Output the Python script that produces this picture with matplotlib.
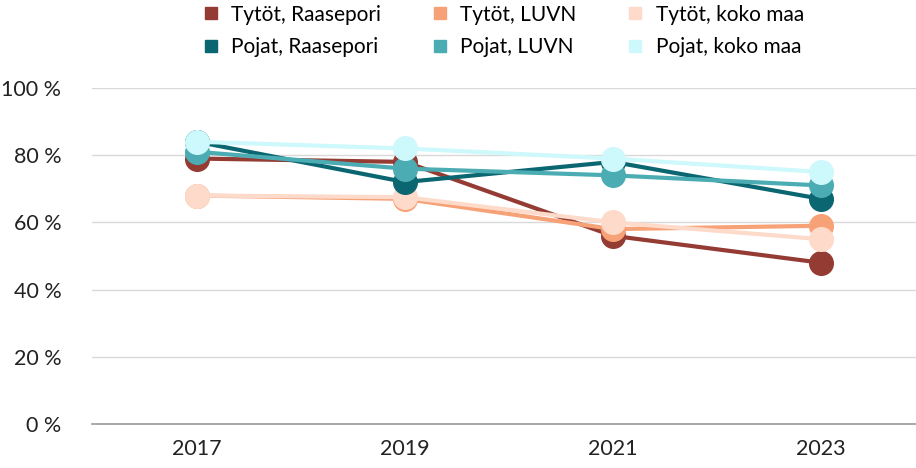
import matplotlib
matplotlib.use("Agg")
import matplotlib.pyplot as plt
from matplotlib.lines import Line2D

plt.rcParams['font.family'] = ['Lato', 'DejaVu Sans']

years = ["2017", "2019", "2021", "2023"]

tytot_raasepori = [79, 78, 56, 48]
tytot_luvn = [68, 67, 58, 59]
tytot_koko_maa = [68, 67.5, 60, 55]
pojat_raasepori = [84, 72, 78, 67]
pojat_luvn = [81, 76, 74, 71]
pojat_koko_maa = [84, 82, 79, 75]

names = ["Tytöt, Raasepori", "Tytöt, LUVN", "Tytöt, koko maa",
         "Pojat, Raasepori", "Pojat, LUVN", "Pojat, koko maa"]
series = [tytot_raasepori, tytot_luvn, tytot_koko_maa,
          pojat_raasepori, pojat_luvn, pojat_koko_maa]
colors = ["#943b34", "#f7a177", "#fddac9",
          "#0a6670", "#4bacb3", "#cdf8fc"]

fig = plt.figure(figsize=(9.16, 4.68), dpi=100)
ax = fig.add_axes([0.1004, 0.094, 0.8996, 0.718])

x = list(range(len(years)))
for vals, c in zip(series, colors):
    ax.plot(x, vals, color=c, lw=3.0, marker="o", ms=17, solid_capstyle="round")

ax.set_xlim(-0.505, 3.457)
ax.set_ylim(0, 100)
ax.set_yticks(range(0, 101, 20))
ax.set_yticklabels([f"{v} %" for v in range(0, 101, 20)])
ax.set_xticks(x)
ax.set_xticklabels(years)
ax.tick_params(axis="both", length=0, labelsize=15.5, colors="#222222")
ax.tick_params(axis="y", pad=22)
ax.tick_params(axis="x", pad=11)
ax.grid(axis="y", color="#d9d9d9", lw=1)
ax.set_axisbelow(True)
for s in ["left", "right", "top"]:
    ax.spines[s].set_visible(False)
ax.spines["bottom"].set_color("#9a9a9a")
ax.spines["bottom"].set_linewidth(1.2)

# legend fills column by column, so reorder to read row by row
order = [0, 3, 1, 4, 2, 5]
handles = [Line2D([], [], ls="none", marker="s", ms=8, color=colors[i]) for i in order]
labels = [names[i] for i in order]
fig.legend(handles, labels, loc="upper center", bbox_to_anchor=(0.547, 1.03),
           ncol=3, frameon=False, fontsize=15, handletextpad=0.4,
           columnspacing=2.2, labelspacing=0.6, handlelength=1.2)

fig.savefig("out.png", dpi=100)
